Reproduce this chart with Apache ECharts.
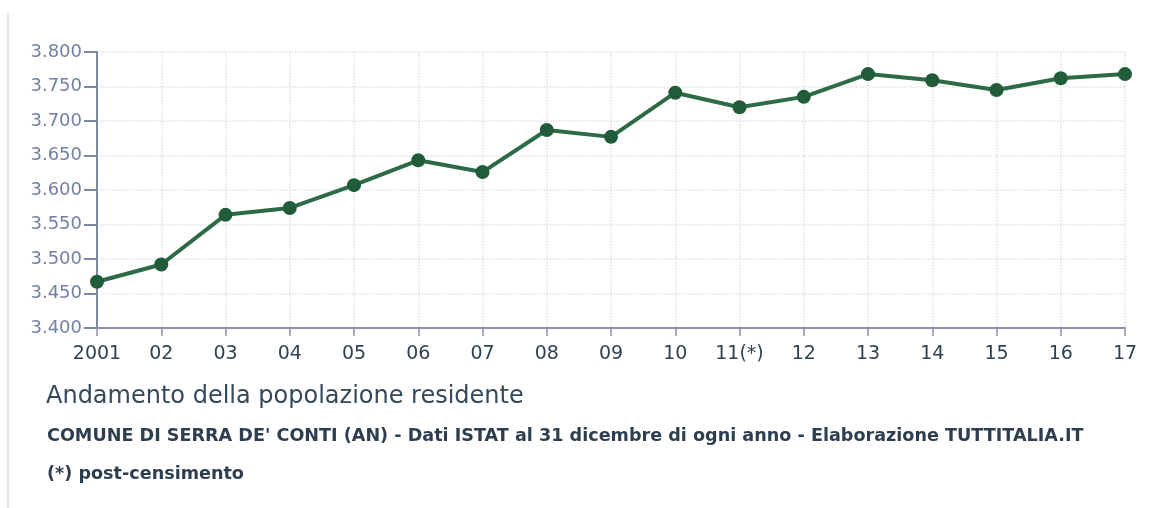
<!DOCTYPE html>
<html>
<head>
<meta charset="utf-8">
<script src="https://cdn.jsdelivr.net/npm/echarts@6/dist/echarts.min.js"></script>
<style>
  html, body { margin: 0; padding: 0; background: #fff; }
  #chart { width: 1163px; height: 508px; }
</style>
</head>
<body>
<div id="chart"></div>
<script>
// anni (x) e popolazione residente al 31 dicembre
const years = ['2001', '02', '03', '04', '05', '06', '07', '08', '09', '10', '11(*)', '12', '13', '14', '15', '16', '17']
const population = [3467, 3492, 3564, 3574, 3607, 3643, 3626, 3687, 3677, 3741, 3720, 3735, 3768, 3759, 3745, 3762, 3768]
const yMin = 3400
const yMax = 3800
const yStep = 50

const fmt = v => String(v).replace(/\B(?=(\d{3})+(?!\d))/g, '.')

const chart = echarts.init(document.getElementById('chart'))
chart.setOption({
  animation: false,
  grid: { left: 97, right: 38, top: 52, bottom: 180 },
  xAxis: {
    type: 'category',
    data: years,
    boundaryGap: false,
    axisLine: { lineStyle: { color: '#8c90a8', width: 2 } },
    axisTick: { alignWithLabel: true, length: 8, lineStyle: { color: '#8c90a8', width: 1.5 } },
    axisLabel: { color: '#2f4354', fontSize: 19, fontFamily: 'DejaVu Sans', margin: 17 },
    splitLine: { show: true, lineStyle: { color: '#dde1e8', type: 'dotted', width: 1.5 } }
  },
  yAxis: {
    type: 'value',
    min: yMin,
    max: yMax,
    interval: yStep,
    axisLine: { show: true, lineStyle: { color: '#7d87aa', width: 2 } },
    axisTick: { show: true, length: 13, lineStyle: { color: '#7d87aa', width: 2 } },
    axisLabel: { color: '#7380a6', fontSize: 18, fontFamily: 'DejaVu Sans', margin: 15, formatter: fmt },
    splitLine: { show: true, lineStyle: { color: '#dde1e8', type: 'dotted', width: 1.5 } }
  },
  series: [{
    type: 'line',
    data: population,
    symbol: 'circle',
    symbolSize: 14,
    lineStyle: { color: '#2d6b47', width: 4 },
    itemStyle: { color: '#215c39' }
  }],
  graphic: [
    { type: 'line', shape: { x1: 8, y1: 12, x2: 8, y2: 508 }, style: { stroke: '#dfe7f1', lineWidth: 2 } },
    { type: 'text', left: 46, top: 385, style: { text: 'Andamento della popolazione residente', fill: '#34495c', font: '24px "DejaVu Sans"' } },
    { type: 'text', left: 47, top: 427, style: { text: "COMUNE DI SERRA DE' CONTI (AN) - Dati ISTAT al 31 dicembre di ogni anno - Elaborazione TUTTITALIA.IT", fill: '#2c3e50', font: 'bold 17.6px "DejaVu Sans"' } },
    { type: 'text', left: 47, top: 465, style: { text: '(*) post-censimento', fill: '#2c3e50', font: 'bold 17.6px "DejaVu Sans"' } }
  ]
})
</script>
</body>
</html>
